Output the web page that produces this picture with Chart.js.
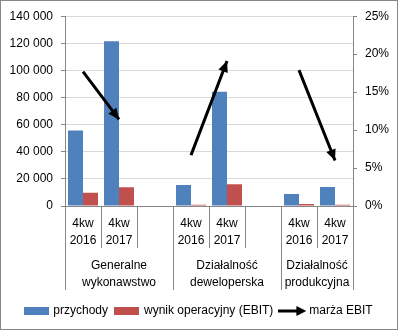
<!DOCTYPE html>
<html>
<head>
<meta charset="utf-8">
<script src="https://cdn.jsdelivr.net/npm/chart.js@4.4.1/dist/chart.umd.min.js"></script>
<style>
    html, body { margin: 0; padding: 0; background: #fff; }
    #wrap { width: 398px; height: 330px; box-sizing: border-box; border: 1px solid #868686; }
    canvas { display: block; }
</style>
</head>
<body>
<div id="wrap"><canvas id="chart" width="396" height="328"></canvas></div>
<script>
// dane
const periodLabels = [['4kw', '2016'], ['4kw', '2017'], '', ['4kw', '2016'], ['4kw', '2017'], '', ['4kw', '2016'], ['4kw', '2017']];
const groupLabels = [['Generalne', 'wykonawstwo'], ['Działalność', 'deweloperska'], ['Działalność', 'produkcyjna']];
const groupSizes = [3, 3, 2];
const revenue = [55600, 121500, null, 15400, 84200, null, 8800, 14100];
const ebit = [9700, 13900, null, 950, 16100, null, 1550, 900];
const ebitMargin = [17.7, 11.4, null, 6.7, 19.1, null, 17.9, 6.0];
const leftTicks = [0, 20000, 40000, 60000, 80000, 100000, 120000, 140000];
const rightTicks = [0, 5, 10, 15, 20, 25];

const seriesNames = ['przychody', 'wynik operacyjny (EBIT)', 'marża EBIT'];
const axisColor = '#868686';

Chart.defaults.font.family = "'Liberation Sans', Arial, sans-serif";
Chart.defaults.font.size = 12;
Chart.defaults.color = '#000';

// srodki grup w jednostkach indeksu kategorii
const groupCenters = [];
let acc = 0;
groupSizes.forEach(n => {
    groupCenters.push(acc + (n - 1) / 2);
    acc += n;
});

function drawHead(ctx, x0, y0, x1, y1, len, half) {
    const ang = Math.atan2(y1 - y0, x1 - x0);
    ctx.save();
    ctx.translate(x1, y1);
    ctx.rotate(ang);
    ctx.beginPath();
    ctx.moveTo(0, 0);
    ctx.lineTo(-len, -half);
    ctx.lineTo(-len, half);
    ctx.closePath();
    ctx.fill();
    ctx.restore();
}

function boxIcon(color) {
    const c = document.createElement('canvas');
    c.width = 25;
    c.height = 8;
    const g = c.getContext('2d');
    g.fillStyle = color;
    g.fillRect(0, 0, 25, 8);
    return c;
}

function arrowIcon() {
    const c = document.createElement('canvas');
    c.width = 28;
    c.height = 10;
    const g = c.getContext('2d');
    g.strokeStyle = '#000';
    g.fillStyle = '#000';
    g.lineWidth = 3;
    g.beginPath();
    g.moveTo(0, 5);
    g.lineTo(20, 5);
    g.stroke();
    drawHead(g, 0, 5, 28, 5, 10, 5);
    return c;
}

const legendIcons = [boxIcon('#4f81bd'), boxIcon('#c0504d'), arrowIcon()];

// linie podzialu pod osia X
const dividerPlugin = {
    id: 'dividers',
    afterDraw(chart) {
        const x = chart.scales.x;
        const xg = chart.scales.xg;
        const ctx = chart.ctx;
        const step = x.getPixelForValue(1) - x.getPixelForValue(0);
        const start = x.getPixelForValue(0) - step / 2;
        const edges = [0];
        let s = 0;
        groupSizes.forEach(n => { s += n; edges.push(s); });
        ctx.save();
        ctx.strokeStyle = axisColor;
        ctx.lineWidth = 1;
        for (let k = 0; k <= periodLabels.length; k++) {
            const px = Math.round(start + k * step - 0.5) + 0.5;
            const bottom = edges.includes(k) ? xg.top + 42 : x.bottom;
            ctx.beginPath();
            ctx.moveTo(px, x.top);
            ctx.lineTo(px, bottom);
            ctx.stroke();
        }
        ctx.restore();
    }
};

// groty strzalek marzy
const arrowPlugin = {
    id: 'arrowHeads',
    afterDatasetsDraw(chart) {
        const meta = chart.getDatasetMeta(2);
        const ctx = chart.ctx;
        ctx.save();
        ctx.fillStyle = '#000';
        for (let i = 1; i < ebitMargin.length; i++) {
            if (ebitMargin[i] == null || ebitMargin[i - 1] == null) continue;
            const a = meta.data[i - 1];
            const b = meta.data[i];
            drawHead(ctx, a.x, a.y, b.x, b.y, 11, 5);
        }
        ctx.restore();
    }
};

const ctx = document.getElementById('chart').getContext('2d');

new Chart(ctx, {
    type: 'bar',
    data: {
        labels: periodLabels,
        datasets: [
            {
                label: seriesNames[0],
                data: revenue,
                backgroundColor: '#4f81bd',
                xAxisID: 'x',
                yAxisID: 'y',
                barPercentage: 1,
                categoryPercentage: 0.833,
                order: 1
            },
            {
                label: seriesNames[1],
                data: ebit,
                backgroundColor: '#c0504d',
                xAxisID: 'x',
                yAxisID: 'y',
                barPercentage: 1,
                categoryPercentage: 0.833,
                order: 1
            },
            {
                type: 'line',
                label: seriesNames[2],
                data: ebitMargin,
                borderColor: '#000',
                borderWidth: 3,
                pointRadius: 0,
                tension: 0,
                spanGaps: false,
                xAxisID: 'x',
                yAxisID: 'y1',
                order: 0
            }
        ]
    },
    options: {
        responsive: false,
        animation: false,
        layout: { padding: { top: 14, bottom: 2, left: 0, right: 0 } },
        plugins: {
            tooltip: { enabled: false },
            legend: {
                position: 'bottom',
                labels: {
                    usePointStyle: true,
                    pointStyleWidth: 22,
                    padding: 8,
                    color: '#000',
                    font: { size: 12 },
                    generateLabels: chart => chart.data.datasets.map((ds, i) => ({
                        text: ds.label,
                        pointStyle: legendIcons[i],
                        datasetIndex: i,
                        fillStyle: 'transparent',
                        strokeStyle: 'transparent',
                        lineWidth: 0,
                        fontColor: '#000',
                        hidden: false
                    }))
                }
            }
        },
        scales: {
            x: {
                type: 'category',
                position: 'bottom',
                weight: 0,
                grid: { display: true, drawOnChartArea: false, drawTicks: false, color: 'transparent' },
                border: { display: true, color: axisColor },
                ticks: {
                    padding: 10,
                    maxRotation: 0,
                    autoSkip: false,
                    color: '#000',
                    font: { size: 12, lineHeight: 1.35 }
                },
                afterFit(scale) { scale.height = 42; }
            },
            xg: {
                type: 'linear',
                position: 'bottom',
                weight: 1,
                offset: false,
                min: -0.5,
                max: periodLabels.length - 0.5,
                grid: { display: false, drawTicks: false },
                border: { display: false },
                afterBuildTicks(scale) {
                    scale.ticks = groupCenters.map(v => ({ value: v }));
                },
                ticks: {
                    padding: 10,
                    maxRotation: 0,
                    autoSkip: false,
                    color: '#000',
                    font: { size: 12, lineHeight: 1.35 },
                    callback: (value, index) => groupLabels[index]
                },
                afterFit(scale) { scale.height = 49; }
            },
            y: {
                position: 'left',
                min: leftTicks[0],
                max: leftTicks[leftTicks.length - 1],
                afterBuildTicks(scale) {
                    scale.ticks = leftTicks.map(v => ({ value: v }));
                },
                grid: { color: '#d9d9d9', tickColor: axisColor, tickLength: 4 },
                border: { display: true, color: axisColor },
                ticks: {
                    padding: 8,
                    color: '#000',
                    callback: v => String(v).replace(/\B(?=(\d{3})+(?!\d))/g, ' ')
                },
                afterFit(scale) { scale.width = 64; }
            },
            y1: {
                position: 'right',
                min: rightTicks[0],
                max: rightTicks[rightTicks.length - 1],
                afterBuildTicks(scale) {
                    scale.ticks = rightTicks.map(v => ({ value: v }));
                },
                grid: { drawOnChartArea: false, tickColor: axisColor, tickLength: 4 },
                border: { display: true, color: axisColor },
                ticks: {
                    padding: 8,
                    color: '#000',
                    callback: v => v + '%'
                },
                afterFit(scale) { scale.width = 44; }
            }
        }
    },
    plugins: [dividerPlugin, arrowPlugin]
});
</script>
</body>
</html>
